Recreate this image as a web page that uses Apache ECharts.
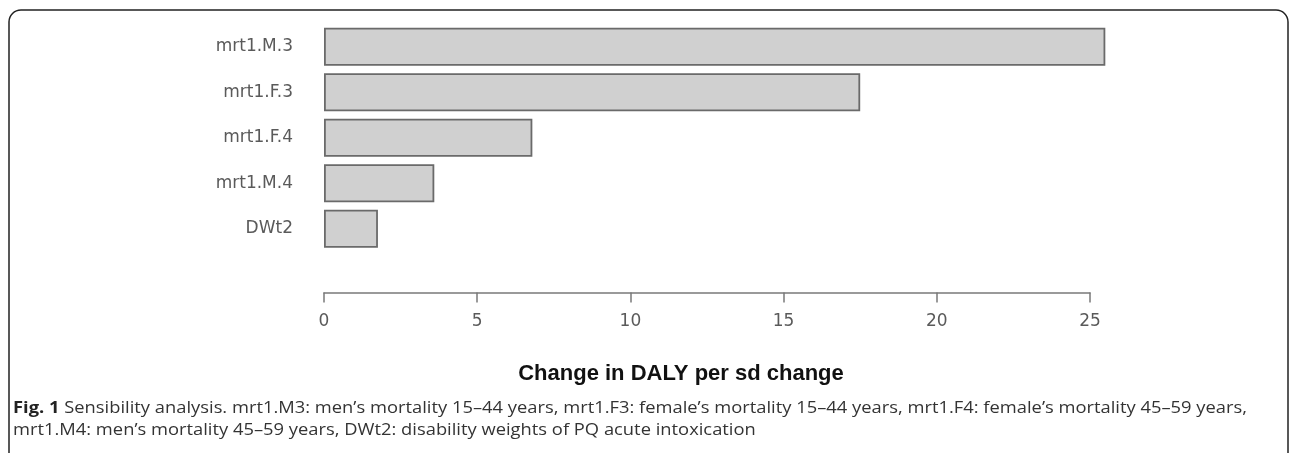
<!DOCTYPE html>
<html><head><meta charset="utf-8">
<script src="https://cdn.jsdelivr.net/npm/echarts@6/dist/echarts.min.js"></script>
<style>html,body{margin:0;padding:0;background:#fff}#c{width:1290px;height:453px}</style>
</head><body><div id="c"></div>
<script>
const categories = ['DWt2', 'mrt1.M.4', 'mrt1.F.4', 'mrt1.F.3', 'mrt1.M.3'];
const values = [1.76, 3.6, 6.8, 17.5, 25.5];
const xTicks = [0, 5, 10, 15, 20, 25];
const axisTitle = 'Change in DALY per sd change';
const captionBold = 'Fig. 1';
const captionLine1 = ' Sensibility analysis. mrt1.M3: men\u2019s mortality 15\u201344 years, mrt1.F3: female\u2019s mortality 15\u201344 years, mrt1.F4: female\u2019s mortality 45\u201359 years,';
const captionLine2 = 'mrt1.M4: men\u2019s mortality 45\u201359 years, DWt2: disability weights of PQ acute intoxication';

const capFont = '"Open Sans", "Noto Sans", sans-serif';
const capSize = 15.5;
const cv = document.createElement('canvas').getContext('2d');
cv.font = 'bold ' + capSize + 'px ' + capFont;
let w1 = cv.measureText(captionBold).width;
cv.font = capSize + 'px ' + capFont;
w1 += cv.measureText(captionLine1).width;
const capScale = (1247 - 13) / w1;

const labelFont = '"DejaVu Sans", Verdana, sans-serif';

const chart = echarts.init(document.getElementById('c'), null, {renderer: 'canvas'});
chart.setOption({
  animation: false,
  grid: {left: 324, right: 200, top: 24, height: 227.5, containLabel: false},
  xAxis: {
    type: 'value', min: xTicks[0], max: xTicks[xTicks.length - 1], interval: 5,
    offset: 41,
    axisLine: {show: true, lineStyle: {color: '#7a7a7a', width: 1.5}},
    axisTick: {show: true, length: 10, inside: false, lineStyle: {color: '#7a7a7a', width: 1.5}},
    axisLabel: {color: '#5a5a5a', fontSize: 17, margin: 21, fontFamily: labelFont},
    splitLine: {show: false}
  },
  yAxis: {
    type: 'category', data: categories,
    axisLine: {show: false}, axisTick: {show: false},
    axisLabel: {color: '#5a5a5a', fontSize: 17, margin: 31, fontFamily: labelFont}
  },
  series: [{
    type: 'bar', data: values, barWidth: 38, clip: false,
    itemStyle: {color: '#d0d0d0', borderColor: '#6a6a6a', borderWidth: 1.8}
  }],
  graphic: [
    {type: 'rect', shape: {x: 9, y: 10, width: 1279, height: 470, r: 12},
     style: {fill: 'none', stroke: '#222', lineWidth: 1.5}, z: 100},
    {type: 'text', x: 681, y: 374,
     style: {text: axisTitle, font: 'bold 22px "Liberation Sans", Arial, sans-serif', fill: '#111',
             textAlign: 'center', textVerticalAlign: 'middle'}},
    {type: 'text', x: 13, y: 409, scaleX: capScale,
     style: {text: '{b|' + captionBold + '}' + captionLine1, textVerticalAlign: 'middle',
             font: capSize + 'px ' + capFont, fill: '#333',
             rich: {b: {fontWeight: 'bold', fontSize: capSize, fontFamily: capFont, fill: '#222'}}}},
    {type: 'text', x: 13, y: 431, scaleX: capScale,
     style: {text: captionLine2, font: capSize + 'px ' + capFont, fill: '#333', textVerticalAlign: 'middle'}}
  ]
});
</script></body></html>
